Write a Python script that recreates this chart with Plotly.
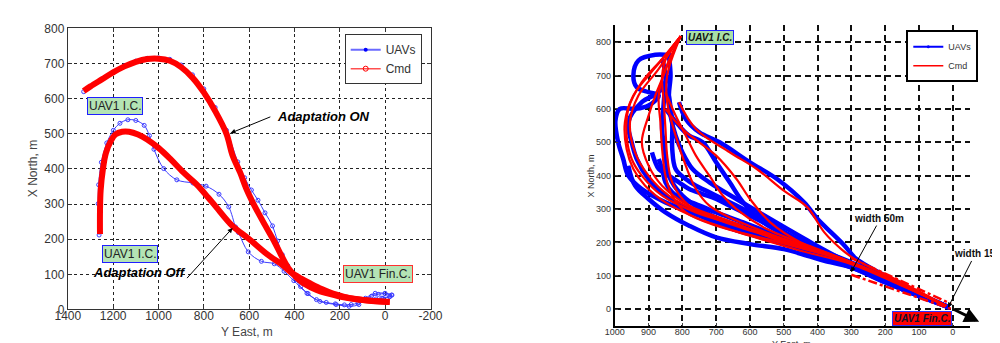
import plotly.graph_objects as go

# ---------------- LEFT PANEL DATA (Y East, X North) ----------------
on_cmd_east = [1330, 1300, 1250, 1200, 1150, 1100, 1050, 1000, 950, 900, 850, 800, 750, 700, 674, 640, 610, 574, 530, 488, 455, 424, 390, 359, 300, 250, 201, 150, 100, 50, 0, -20]
on_cmd_north = [622, 635, 655, 675, 692, 705, 713, 714, 708, 690, 660, 618, 565, 500, 440, 390, 340, 292, 240, 192, 150, 115, 90, 74, 55, 45, 37, 31, 27, 24, 22, 22]

on_uav_east = [1330, 1300, 1250, 1200, 1150, 1100, 1050, 1000, 950, 900, 850, 800, 750, 700, 650, 620, 590, 561, 530, 497, 475, 454, 430, 416, 395, 373, 340, 303, 260, 220, 180, 150, 120, 90, 60, 30, 0, -30, -20, 10, 40]
on_uav_north = [620, 634, 656, 676, 694, 707, 715, 716, 712, 696, 668, 628, 575, 510, 420, 375, 340, 311, 275, 238, 195, 156, 125, 109, 85, 65, 45, 28, 20, 16, 13, 14, 18, 28, 38, 43, 45, 41, 36, 32, 30]

off_cmd_east = [1258, 1258, 1255, 1245, 1232, 1210, 1190, 1160, 1130, 1090, 1050, 1000, 950, 890, 832, 780, 746, 674, 603, 518, 450, 416, 370, 330, 280, 230, 180, 120, 60, 0, -20]
off_cmd_north = [215, 280, 340, 400, 445, 480, 498, 506, 506, 498, 484, 460, 430, 390, 356, 318, 292, 238, 202, 156, 125, 106, 88, 74, 58, 45, 36, 29, 24, 22, 21]

off_uav_east = [1262, 1266, 1264, 1252, 1228, 1199, 1170, 1135, 1100, 1063, 1040, 1020, 977, 919, 848, 790, 733, 690, 660, 647, 604, 546, 489, 446, 403, 345, 288, 216, 159, 116, 87, 44, 1, -28, -21, 15, 58]
off_uav_north = [212, 301, 355, 419, 474, 510, 530, 540, 538, 524, 495, 456, 401, 369, 360, 351, 328, 292, 235, 219, 164, 137, 130, 109, 82, 46, 23, 14, 9, 14, 32, 46, 46, 41, 38, 32, 27]

# ---------------- RIGHT PANEL DATA (Y East, X North) ----------------
cmd_r1 = ([805, 850, 900, 945, 970, 965, 945, 910, 850, 750, 600, 450, 300, 150, 20],
          [818, 760, 700, 640, 560, 480, 420, 370, 320, 270, 220, 175, 135, 70, 10])
cmd_r2 = ([805, 860, 920, 960, 965, 950, 920, 860, 760, 600, 450, 300, 150, 20],
          [818, 750, 680, 600, 520, 450, 400, 340, 290, 240, 190, 140, 75, 10])
cmd_r3 = ([805, 840, 860, 880, 900, 920, 900, 860, 780, 650, 500, 300, 150, 20],
          [818, 740, 690, 640, 580, 500, 430, 370, 310, 260, 200, 140, 75, 10])
cmd_r4 = ([805, 845, 860, 855, 850, 845, 830, 780, 700, 550, 400, 300, 20],
          [818, 760, 700, 620, 540, 460, 380, 310, 270, 220, 175, 140, 10])
cmd_r5 = ([805, 850, 870, 865, 860, 850, 830, 790, 700, 550, 400, 300, 20],
          [818, 720, 640, 560, 480, 400, 340, 290, 250, 210, 170, 140, 10])
cmd_r6 = ([805, 845, 845, 820, 790, 760, 720, 650, 500, 300, 20],
          [818, 700, 620, 520, 430, 360, 310, 270, 210, 140, 10])
cmd_r7 = ([850, 820, 790, 760, 720, 680, 640, 550, 400, 300, 20],
          [650, 580, 520, 460, 400, 340, 300, 240, 180, 140, 10])
cmd_r8 = ([810, 760, 660, 580, 500, 430, 380, 330, 290, 150, 20],
          [620, 540, 470, 420, 355, 305, 230, 180, 150, 80, 10])
cmd_r9 = ([850, 800, 750, 700, 640, 600, 540, 450, 300, 150, 20],
          [600, 540, 500, 460, 390, 330, 260, 200, 140, 75, 10])
cmd_r10 = ([805, 870, 930, 955, 940, 900, 840, 760, 650, 500, 350, 200, 20],
           [818, 720, 640, 560, 470, 400, 340, 295, 255, 210, 160, 95, 10])

uav_b1 = ([830, 880, 930, 945, 935, 900, 870, 900, 940, 985, 998, 990, 975, 960, 920, 850, 750, 650, 550, 450, 350, 250, 150, 10],
          [760, 762, 745, 700, 665, 650, 640, 610, 600, 600, 565, 500, 450, 400, 360, 320, 280, 240, 210, 180, 145, 110, 60, 5])
uav_b2 = ([840, 870, 920, 960, 950, 935, 900, 850, 780, 700, 600, 500, 400, 300, 150, 10],
          [700, 650, 620, 560, 500, 450, 390, 340, 300, 270, 240, 200, 160, 125, 60, 5])
uav_b3 = ([960, 940, 900, 850, 780, 700, 600, 500, 430, 380, 300, 200, 100, 10],
          [430, 370, 330, 290, 250, 215, 195, 180, 160, 145, 125, 80, 40, 5])
uav_b4 = ([860, 850, 855, 860, 850, 840, 800, 730, 650, 530, 400, 300, 150, 10],
          [750, 700, 620, 540, 460, 400, 340, 290, 250, 210, 170, 130, 65, 5])
uav_b5 = ([840, 830, 830, 820, 790, 760, 720, 680, 620, 560, 480, 400, 300, 150, 10],
          [640, 560, 480, 420, 390, 370, 350, 330, 300, 270, 220, 175, 130, 65, 5])
uav_b6 = ([890, 880, 870, 840, 810, 780, 740, 700, 660, 600, 500, 400, 300, 150, 10],
          [470, 440, 420, 400, 380, 360, 345, 330, 310, 280, 230, 180, 130, 65, 5])
uav_b7 = ([810, 790, 750, 690, 600, 520, 440, 400, 360, 320, 285, 200, 100, 10],
          [620, 570, 530, 500, 440, 390, 320, 270, 230, 190, 150, 100, 45, 5])
uav_b8 = ([850, 810, 780, 740, 700, 660, 620, 560, 450, 300, 150, 10],
          [600, 550, 520, 500, 440, 380, 320, 260, 200, 140, 70, 5])
uav_b9 = ([870, 860, 850, 830, 800, 760, 700, 620, 520, 420, 300, 150, 10],
          [450, 420, 380, 350, 330, 315, 290, 260, 220, 180, 130, 65, 5])
uav_b10 = ([840, 835, 840, 835, 820, 800, 770, 720, 640, 540, 420, 300, 150, 10],
           [760, 700, 640, 580, 520, 470, 420, 380, 330, 270, 200, 135, 68, 5])

# corridor (dash-dot) boundaries
corr_upper = ([300, 5], [153, 16])
corr_lower = ([300, 5], [103, 1])

left_ticks_x = [1400, 1200, 1000, 800, 600, 400, 200, 0, -200]
left_ticks_y = [0, 100, 200, 300, 400, 500, 600, 700, 800]
right_ticks_x = [1000, 900, 800, 700, 600, 500, 400, 300, 200, 100, 0]
right_ticks_y = [0, 100, 200, 300, 400, 500, 600, 700, 800]

FONT = "Liberation Sans"
BLUE_L = "#3c3cff"
RED = "#ff0000"
BLUE = "#0000ff"

fig = go.Figure()

# ---- left panel traces
for ex, no in [(on_uav_east, on_uav_north), (off_uav_east, off_uav_north)]:
    fig.add_trace(go.Scatter(x=ex, y=no, mode="lines+markers", line=dict(color=BLUE_L, width=1, shape="spline"),
                             marker=dict(symbol="circle-open", size=4, color=BLUE_L), showlegend=False,
                             xaxis="x", yaxis="y", hoverinfo="skip"))
for ex, no in [(on_cmd_east, on_cmd_north), (off_cmd_east, off_cmd_north)]:
    fig.add_trace(go.Scatter(x=ex, y=no, mode="lines", line=dict(color=RED, width=6, shape="spline"),
                             showlegend=False, xaxis="x", yaxis="y", hoverinfo="skip"))
# legend proxies (left)
fig.add_trace(go.Scatter(x=[None], y=[None], mode="lines+markers", name="UAVs",
                         line=dict(color="#6a6aff", width=2), marker=dict(symbol="circle", size=4, color=BLUE),
                         xaxis="x", yaxis="y", legend="legend"))
fig.add_trace(go.Scatter(x=[None], y=[None], mode="lines+markers", name="Cmd",
                         line=dict(color="#ff5050", width=1.5), marker=dict(symbol="circle-open", size=5, color=RED),
                         xaxis="x", yaxis="y", legend="legend"))

# ---- right panel traces
for ex, no in [uav_b1, uav_b2, uav_b3, uav_b4, uav_b5, uav_b6, uav_b7, uav_b8, uav_b9, uav_b10]:
    fig.add_trace(go.Scatter(x=ex, y=no, mode="lines", line=dict(color=BLUE, width=4.5, shape="spline"),
                             showlegend=False, xaxis="x2", yaxis="y2", hoverinfo="skip"))
for ex, no in [cmd_r1, cmd_r2, cmd_r3, cmd_r4, cmd_r5, cmd_r6, cmd_r7, cmd_r8, cmd_r9, cmd_r10]:
    fig.add_trace(go.Scatter(x=ex, y=no, mode="lines", line=dict(color=RED, width=2.2, shape="spline"),
                             showlegend=False, xaxis="x2", yaxis="y2", hoverinfo="skip"))
for ex, no in [corr_upper, corr_lower]:
    fig.add_trace(go.Scatter(x=ex, y=no, mode="lines", line=dict(color=RED, width=2.5, dash="dashdot"),
                             showlegend=False, xaxis="x2", yaxis="y2", hoverinfo="skip"))
fig.add_trace(go.Scatter(x=[None], y=[None], mode="lines+markers", name="UAVs",
                         line=dict(color=BLUE, width=2), marker=dict(symbol="circle", size=3, color=BLUE),
                         xaxis="x2", yaxis="y2", legend="legend2"))
fig.add_trace(go.Scatter(x=[None], y=[None], mode="lines+markers", name="Cmd",
                         line=dict(color=RED, width=1.5), marker=dict(symbol="cross-thin", size=3, color=RED),
                         xaxis="x2", yaxis="y2", legend="legend2"))

ann = []
def box(text, x, y, xref, yref, size, bg, border, bold=False, color="#222", bw=1):
    t = f"<b><i>{text}</i></b>" if bold else text
    ann.append(dict(text=t, x=x, y=y, xref=xref, yref=yref, showarrow=False,
                    font=dict(family=FONT, size=size, color=color), bgcolor=bg,
                    bordercolor=border, borderwidth=bw, borderpad=1))

def arrow(hx, hy, tx, ty, xref, yref, width=1, head=2, size=1):
    ann.append(dict(text="", x=hx, y=hy, ax=tx, ay=ty, xref=xref, yref=yref, axref=xref, ayref=yref,
                    showarrow=True, arrowhead=head, arrowsize=size, arrowwidth=width, arrowcolor="black"))

# left annotations
box("UAV1 I.C.", 1194, 580, "x", "y", 12, "#b4e4b4", "#1f1fff")
box("UAV1 I.C.", 1125, 158, "x", "y", 12, "#b4e4b4", "#1f1fff")
box("UAV1 Fin.C.", 32, 101, "x", "y", 12, "#b4e4b4", "#ff3030")
ann.append(dict(text="<b><i>Adaptation ON</i></b>", x=273, y=549, xref="x", yref="y", showarrow=False,
                font=dict(family=FONT, size=13, color="black")))
ann.append(dict(text="<b><i>Adaptation Off</i></b>", x=1082, y=106, xref="x", yref="y", showarrow=False,
                font=dict(family=FONT, size=13, color="black")))
arrow(682, 502, 500, 550, "x", "y")
arrow(673, 232, 880, 85, "x", "y")

# right annotations
box("UAV1 I.C.", 718, 815, "x2", "y2", 10, "#a8e0a8", "#1f1fff", bold=True, color="#111")
box("UAV1 Fin.C.", 92, -27, "x2", "y2", 10, "#ff0000", "#3030ff", bold=True, color="#10102a")
ann.append(dict(text="<b>width 50m</b>", x=217, y=272, xref="x2", yref="y2", showarrow=False,
                font=dict(family=FONT, size=10, color="#111")))
ann.append(dict(text="<b>width 15m</b>", x=3, y=166, xref="x2", yref="y2", showarrow=False, xanchor="left",
                font=dict(family=FONT, size=10, color="#111")))
arrow(301, 111, 223, 255, "x2", "y2")
arrow(14, 5, -58, 149, "x2", "y2")
arrow(-78, -38, 2, 2, "x2", "y2", width=3, head=2, size=1)

# axis titles
ann.append(dict(text="Y East, m", x=0.232, y=1 - 331 / 343, xref="paper", yref="paper", showarrow=False,
                xanchor="center", yanchor="middle", font=dict(family=FONT, size=12, color="#444")))
ann.append(dict(text="X North, m", x=0.013, y=1 - 160 / 343, xref="paper", yref="paper", showarrow=False,
                xanchor="center", yanchor="middle", textangle=-90, font=dict(family=FONT, size=12, color="#444")))
ann.append(dict(text="X North, m", x=0.585, y=1 - 168 / 343, xref="paper", yref="paper", showarrow=False,
                xanchor="center", yanchor="middle", textangle=-90, font=dict(family=FONT, size=9, color="#333")))
ann.append(dict(text="Y East, m", x=0.79, y=1 - 343 / 343, xref="paper", yref="paper", showarrow=False,
                xanchor="center", yanchor="middle", font=dict(family=FONT, size=9, color="#333")))

fig.update_layout(
    width=1000, height=343, margin=dict(l=0, r=0, t=0, b=0),
    paper_bgcolor="white", plot_bgcolor="white",
    font=dict(family=FONT),
    annotations=ann,
    xaxis=dict(domain=[0.048, 0.420], range=[1400, -200], tickvals=left_ticks_x,
               ticktext=[str(v) for v in left_ticks_x], showgrid=True, gridcolor="#222", griddash="dot",
               gridwidth=1, zeroline=False, showline=True, linecolor="#333", linewidth=1, mirror="ticks",
               ticks="inside", ticklen=4, tickcolor="#333", ticklabelstandoff=-5,
               tickfont=dict(family=FONT, size=12, color="#333"), anchor="y"),
    yaxis=dict(domain=[1 - 307 / 343, 1 - 14 / 343], range=[0, 800], tickvals=left_ticks_y,
               showgrid=True, gridcolor="#222", griddash="dot", gridwidth=1, zeroline=False,
               showline=True, linecolor="#333", linewidth=1, mirror="ticks", ticks="inside", ticklen=4,
               tickcolor="#333", tickfont=dict(family=FONT, size=12, color="#333"), anchor="x"),
    xaxis2=dict(domain=[0.609, 0.973], range=[1000, -50], tickvals=right_ticks_x,
                showgrid=True, gridcolor="#111", griddash="6px,4px", gridwidth=1.5, zeroline=False,
                showline=True, linecolor="black", linewidth=2, ticks="inside", ticklen=3, ticklabelstandoff=-4,
                tickfont=dict(family=FONT, size=9, color="#333"), anchor="y2"),
    yaxis2=dict(domain=[1 - 324.1 / 343, 1 - 10.9 / 343], range=[-50, 850], tickvals=right_ticks_y,
                showgrid=True, gridcolor="#111", griddash="6px,4px", gridwidth=1.5, zeroline=False,
                showline=True, linecolor="black", linewidth=2, ticks="inside", ticklen=3,
                tickfont=dict(family=FONT, size=9, color="#333"), anchor="x2"),
    legend=dict(x=0.332, y=1 - 20 / 343, xanchor="left", yanchor="top", bgcolor="white",
                bordercolor="#333", borderwidth=1, font=dict(family=FONT, size=12, color="#333"),
                itemwidth=30, tracegroupgap=0),
    legend2=dict(x=0.908, y=1 - 16 / 343, xanchor="left", yanchor="top", bgcolor="white",
                 bordercolor="black", borderwidth=2, font=dict(family=FONT, size=9, color="#333"),
                 itemwidth=30, tracegroupgap=0),
)

fig.write_html("out.html")
